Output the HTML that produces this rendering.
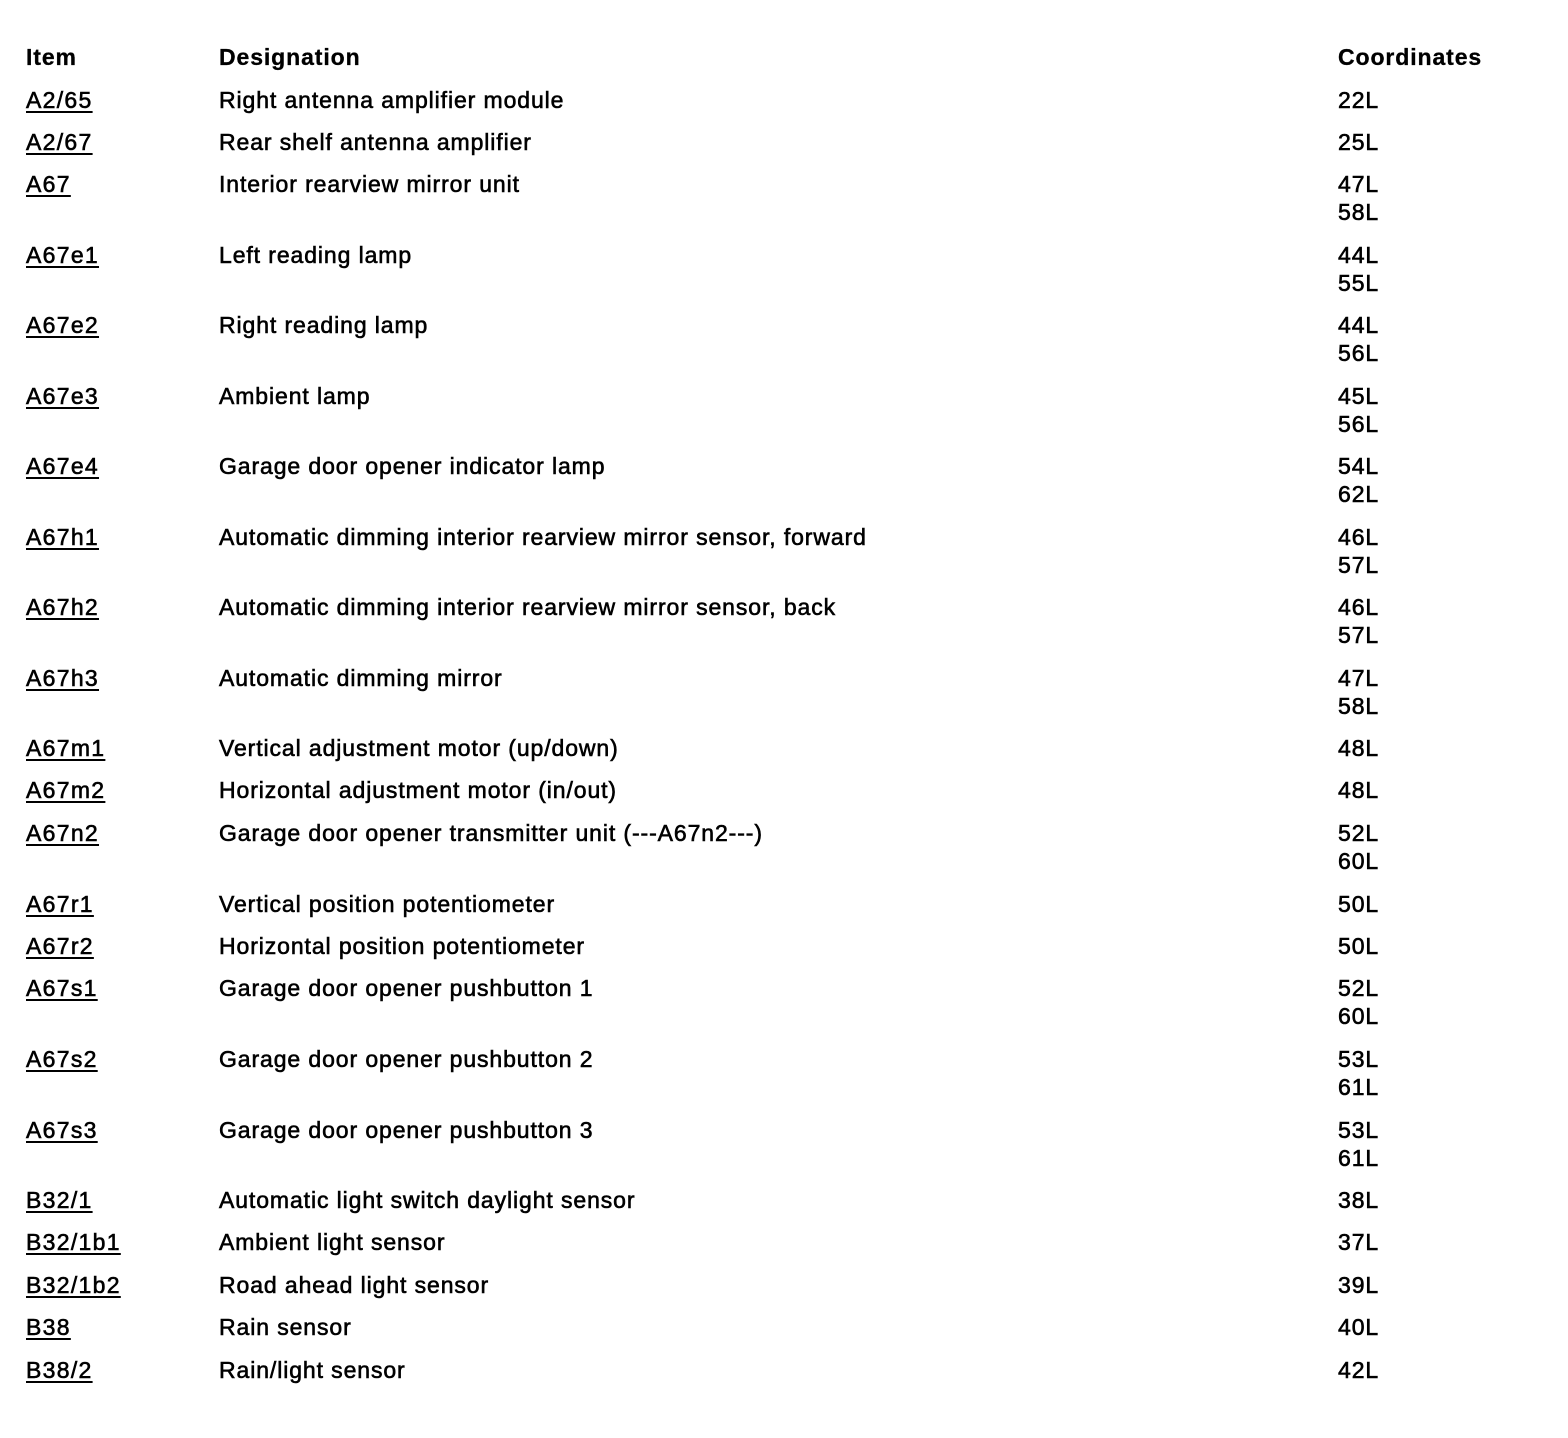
<!DOCTYPE html>
<html><head><style>
body{margin:0;width:1568px;height:1438px;background:#fff;position:relative;font-family:"Liberation Sans",Arial,sans-serif;font-size:23px;letter-spacing:0.9px;color:#000;-webkit-text-stroke:0.6px #000}
.r{position:absolute;left:0;width:1568px;height:26px;line-height:26px;white-space:nowrap}
.r span{position:absolute;top:0}
.a{left:26px;letter-spacing:1.3px;text-decoration:underline;text-decoration-thickness:2px;text-underline-offset:3px}
.d{left:219px}
.c{left:1338px}
.h{font-weight:bold;-webkit-text-stroke:0.3px #000}
</style></head><body>
<div class="r h" style="top:44px"><span style="left:26px">Item</span><span class="d">Designation</span><span class="c">Coordinates</span></div>
<div class="r" style="top:87px"><span class="a">A2/65</span><span class="d">Right antenna amplifier module</span><span class="c">22L</span></div>
<div class="r" style="top:129px"><span class="a">A2/67</span><span class="d">Rear shelf antenna amplifier</span><span class="c">25L</span></div>
<div class="r" style="top:171px"><span class="a">A67</span><span class="d">Interior rearview mirror unit</span><span class="c">47L</span></div>
<div class="r" style="top:199px"><span class="c">58L</span></div>
<div class="r" style="top:242px"><span class="a">A67e1</span><span class="d">Left reading lamp</span><span class="c">44L</span></div>
<div class="r" style="top:270px"><span class="c">55L</span></div>
<div class="r" style="top:312px"><span class="a">A67e2</span><span class="d">Right reading lamp</span><span class="c">44L</span></div>
<div class="r" style="top:340px"><span class="c">56L</span></div>
<div class="r" style="top:383px"><span class="a">A67e3</span><span class="d">Ambient lamp</span><span class="c">45L</span></div>
<div class="r" style="top:411px"><span class="c">56L</span></div>
<div class="r" style="top:453px"><span class="a">A67e4</span><span class="d">Garage door opener indicator lamp</span><span class="c">54L</span></div>
<div class="r" style="top:481px"><span class="c">62L</span></div>
<div class="r" style="top:524px"><span class="a">A67h1</span><span class="d">Automatic dimming interior rearview mirror sensor, forward</span><span class="c">46L</span></div>
<div class="r" style="top:552px"><span class="c">57L</span></div>
<div class="r" style="top:594px"><span class="a">A67h2</span><span class="d">Automatic dimming interior rearview mirror sensor, back</span><span class="c">46L</span></div>
<div class="r" style="top:622px"><span class="c">57L</span></div>
<div class="r" style="top:665px"><span class="a">A67h3</span><span class="d">Automatic dimming mirror</span><span class="c">47L</span></div>
<div class="r" style="top:693px"><span class="c">58L</span></div>
<div class="r" style="top:735px"><span class="a">A67m1</span><span class="d">Vertical adjustment motor (up/down)</span><span class="c">48L</span></div>
<div class="r" style="top:777px"><span class="a">A67m2</span><span class="d">Horizontal adjustment motor (in/out)</span><span class="c">48L</span></div>
<div class="r" style="top:820px"><span class="a">A67n2</span><span class="d">Garage door opener transmitter unit (---A67n2---)</span><span class="c">52L</span></div>
<div class="r" style="top:848px"><span class="c">60L</span></div>
<div class="r" style="top:891px"><span class="a">A67r1</span><span class="d">Vertical position potentiometer</span><span class="c">50L</span></div>
<div class="r" style="top:933px"><span class="a">A67r2</span><span class="d">Horizontal position potentiometer</span><span class="c">50L</span></div>
<div class="r" style="top:975px"><span class="a">A67s1</span><span class="d">Garage door opener pushbutton 1</span><span class="c">52L</span></div>
<div class="r" style="top:1003px"><span class="c">60L</span></div>
<div class="r" style="top:1046px"><span class="a">A67s2</span><span class="d">Garage door opener pushbutton 2</span><span class="c">53L</span></div>
<div class="r" style="top:1074px"><span class="c">61L</span></div>
<div class="r" style="top:1117px"><span class="a">A67s3</span><span class="d">Garage door opener pushbutton 3</span><span class="c">53L</span></div>
<div class="r" style="top:1145px"><span class="c">61L</span></div>
<div class="r" style="top:1187px"><span class="a">B32/1</span><span class="d">Automatic light switch daylight sensor</span><span class="c">38L</span></div>
<div class="r" style="top:1229px"><span class="a">B32/1b1</span><span class="d">Ambient light sensor</span><span class="c">37L</span></div>
<div class="r" style="top:1272px"><span class="a">B32/1b2</span><span class="d">Road ahead light sensor</span><span class="c">39L</span></div>
<div class="r" style="top:1314px"><span class="a">B38</span><span class="d">Rain sensor</span><span class="c">40L</span></div>
<div class="r" style="top:1357px"><span class="a">B38/2</span><span class="d">Rain/light sensor</span><span class="c">42L</span></div>
</body></html>
